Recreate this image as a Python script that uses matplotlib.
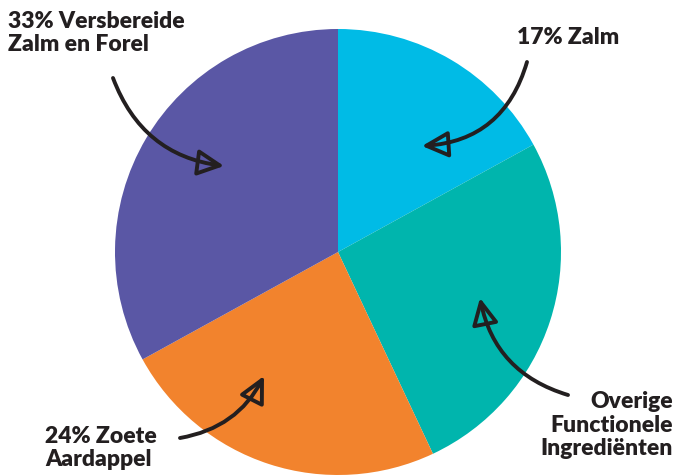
import matplotlib.pyplot as plt

labels = ["17% Zalm", "Overige\nFunctionele\nIngrediënten", "24% Zoete\nAardappel", "33% Versbereide\nZalm en Forel"]
shares = [17, 26, 24, 33]
colors = ["#00BBE6", "#00B5AD", "#F2832D", "#5A57A5"]

W, H = 680, 476
fig = plt.figure(figsize=(6.8, 4.76), dpi=100)
ax = fig.add_axes([0, 0, 1, 1])

ax.pie(shares, colors=colors, startangle=90, counterclock=False,
       center=(338, H - 252), radius=223, frame=True,
       wedgeprops=dict(linewidth=0))
ax.set_xlim(0, W)
ax.set_ylim(0, H)
ax.set_aspect("equal")
ax.axis("off")

font = dict(family=["Lato", "DejaVu Sans"], fontweight="heavy", fontsize=16.5, color="#231F20",
            linespacing=1.17)

# label text, anchor, arrow tail, arrow head, curvature
notes = [
    (labels[0], (568, 37), "center", (527, 62), (422, 146), -0.35),
    (labels[1], (673, 425), "right", (568, 395), (480, 298), -0.3),
    (labels[2], (45, 448), "left", (180, 438), (264, 376), 0.25),
    (labels[3], (8, 33), "left", (113, 78), (224, 166), 0.3),
]
for text, pos, ha, tail, head, rad in notes:
    ax.text(pos[0], H - pos[1], text, ha=ha, va="center", **font)
    ax.annotate("", xy=(head[0], H - head[1]), xytext=(tail[0], H - tail[1]),
                arrowprops=dict(arrowstyle="-|>,head_length=1.6,head_width=0.8",
                                connectionstyle=f"arc3,rad={rad}",
                                color="#231F20", fc="none", lw=2.8,
                                shrinkA=0, shrinkB=0))

fig.savefig("out.png", dpi=100)
